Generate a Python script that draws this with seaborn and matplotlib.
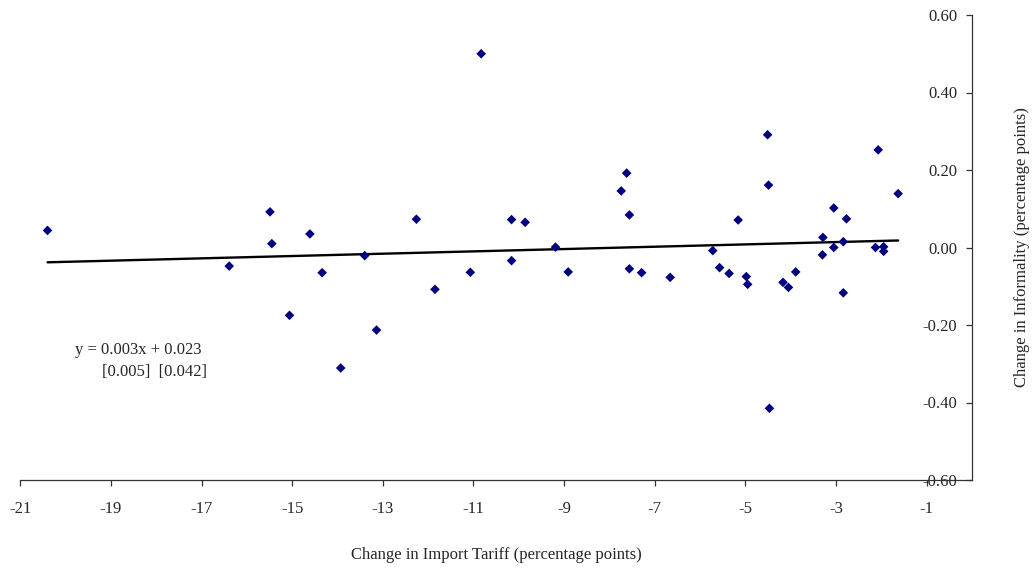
import matplotlib
matplotlib.use("Agg")
import matplotlib.pyplot as plt
import seaborn as sns
import pandas as pd

# Change in import tariff (percentage points)
tariff_change = [-20.40, -16.39, -15.49, -15.45, -15.06, -14.61, -14.34, -13.93,
                 -13.40, -13.14, -12.26, -11.85, -11.07, -10.83, -10.16, -10.16,
                 -9.86, -9.19, -8.91, -7.74, -7.62, -7.56, -7.56, -7.29, -6.66,
                 -5.72, -5.57, -5.36, -5.16, -4.98, -4.95, -4.51, -4.49, -4.47,
                 -4.17, -4.05, -3.89, -3.30, -3.29, -3.05, -3.05, -2.84, -2.84,
                 -2.77, -2.13, -2.07, -1.95, -1.95, -1.63]
# Change in informality (percentage points)
informality_change = [0.044, -0.048, 0.092, 0.010, -0.175, 0.035, -0.065, -0.311,
                      -0.021, -0.213, 0.073, -0.108, -0.064, 0.500, 0.072, -0.034,
                      0.065, 0.001, -0.063, 0.146, 0.192, 0.084, -0.055, -0.065, -0.077,
                      -0.008, -0.052, -0.067, 0.071, -0.075, -0.095, 0.291, 0.161, -0.415,
                      -0.090, -0.103, -0.063, -0.019, 0.026, 0.102, 0.000, 0.015, -0.117,
                      0.074, 0.000, 0.252, 0.002, -0.010, 0.139]

# Fitted trend line (from the chart's equation)
slope, intercept = 0.003, 0.023
slope_se, intercept_se = 0.005, 0.042

x_ticks = [-21, -19, -17, -15, -13, -11, -9, -7, -5, -3, -1]
x_tick_labels = [str(v) for v in x_ticks]
y_ticks = [-0.60, -0.40, -0.20, 0.00, 0.20, 0.40, 0.60]
y_tick_labels = ["-0.60", "-0.40", "-0.20", "0.00", "0.20", "0.40", "0.60"]

sns.set_theme(style="white")
plt.rcParams["font.family"] = ["Liberation Serif", "DejaVu Serif"]

W, H = 1034, 569
fig = plt.figure(figsize=(W / 100, H / 100), dpi=100)
ax = fig.add_axes([20.3 / W, 89 / H, 951.7 / W, 465 / H])

df = pd.DataFrame({"tariff": tariff_change, "informality": informality_change})
sns.scatterplot(data=df, x="tariff", y="informality", marker="D", s=24,
                color="#000080", edgecolor="none", linewidth=0, ax=ax, zorder=3)

fit = pd.DataFrame({"tariff": [min(tariff_change), max(tariff_change)]})
fit["informality"] = slope * fit["tariff"] + intercept
sns.lineplot(data=fit, x="tariff", y="informality", color="black", linewidth=1.7,
             ax=ax, zorder=2)

ax.set_xlim(-21, 0)
ax.set_ylim(-0.6, 0.6)

ax.spines["top"].set_visible(False)
ax.spines["right"].set_visible(False)
ax.spines["left"].set_position(("data", 0))
for s in ("left", "bottom"):
    ax.spines[s].set_color("#333333")
    ax.spines[s].set_linewidth(0.9)

ax.set_xticks(x_ticks, labels=x_tick_labels)
ax.set_yticks(y_ticks, labels=y_tick_labels)
ax.tick_params(axis="x", direction="out", length=4, width=0.9, color="#333333",
               labelsize=12, pad=11, bottom=True)
ax.tick_params(axis="y", direction="out", length=4, width=0.9, color="#333333",
               labelsize=12, pad=6.5, left=True)

ax.set_xlabel("Change in Import Tariff (percentage points)", fontsize=12, labelpad=22)
ax.yaxis.set_label_position("right")
ax.set_ylabel("Change in Informality (percentage points)", fontsize=12, labelpad=30)

ax.text(0.0575, 0.2796, f"y = {slope:.3f}x + {intercept:.3f}", transform=ax.transAxes,
        fontsize=12, ha="left", va="center")
ax.text(0.0858, 0.232, f"[{slope_se:.3f}]  [{intercept_se:.3f}]", transform=ax.transAxes,
        fontsize=12, ha="left", va="center")

fig.savefig("out.png", dpi=100)
